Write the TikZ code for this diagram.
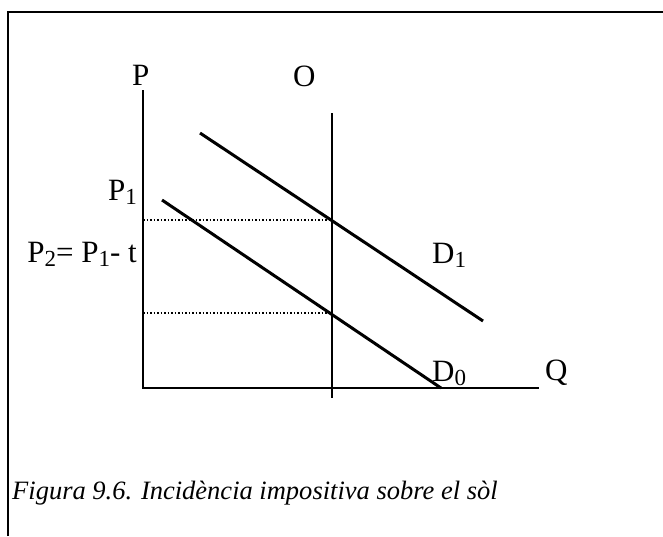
\documentclass[tikz,border=0pt]{standalone}
\usepackage{fontspec}
\setmainfont{Liberation Serif}
\newcommand{\sbs}[1]{\raisebox{-0.14em}{\fontsize{23}{23}\selectfont #1}}
\begin{document}
\begin{tikzpicture}[x=1pt,y=-1pt,
  frame/.style={line width=1.8pt},
  axis/.style={line width=2.3pt},
  curve/.style={line width=3pt},
  guide/.style={line width=1.5pt, dotted},
  lab/.style={font=\fontsize{31}{34}\selectfont, inner sep=0pt},
  captext/.style={font=\fontsize{26.5}{30}\selectfont\itshape, inner sep=0pt}]
\useasboundingbox (0,0) rectangle (663,536);
% frame (top and left edges)
\coordinate (fb) at (8,536);
\coordinate (ftl) at (8,12);
\coordinate (ftr) at (663,12);
\draw[frame] (fb) -- (ftl) -- (ftr);
% axes
\coordinate (pTop) at (143,90);
\coordinate (orig) at (143,388);
\coordinate (qEnd) at (539,388);
\draw[axis] (pTop) -- (orig) -- (qEnd);
% supply (vertical)
\coordinate (oTop) at (332,113);
\coordinate (oBot) at (332,398);
\draw[axis] (oTop) -- (oBot);
% demand curves
\coordinate (d1a) at (200,133);
\coordinate (d1b) at (483,321);
\coordinate (d0a) at (162,200);
\coordinate (d0b) at (441,388);
\draw[curve] (d1a) -- (d1b);
\draw[curve] (d0a) -- (d0b);
% price guides
\coordinate (p1y) at (143,220);
\coordinate (e1) at (332,220);
\coordinate (p2y) at (143,313);
\coordinate (e0) at (332,313);
\draw[guide] (p1y) -- (e1);
\draw[guide] (p2y) -- (e0);
% labels
\node[lab, anchor=base west] (lP) at (132,85) {P};
\node[lab, anchor=base west] (lO) at (293,86) {O};
\node[lab, anchor=base east] (lP1) at (137,200) {P\sbs{1}};
\node[lab, anchor=base east] (lP2) at (137,262) {P\sbs{2}= P\sbs{1}- t};
\node[lab, anchor=base west] (lD1) at (432,263) {D\sbs{1}};
\node[lab, anchor=base west] (lD0) at (432,381) {D\sbs{0}};
\node[lab, anchor=base west] (lQ) at (545,380) {Q};
\node[captext, anchor=base west] (caption) at (12,499) {Figura 9.6. Incidència impositiva sobre el sòl};
\end{tikzpicture}
\end{document}
